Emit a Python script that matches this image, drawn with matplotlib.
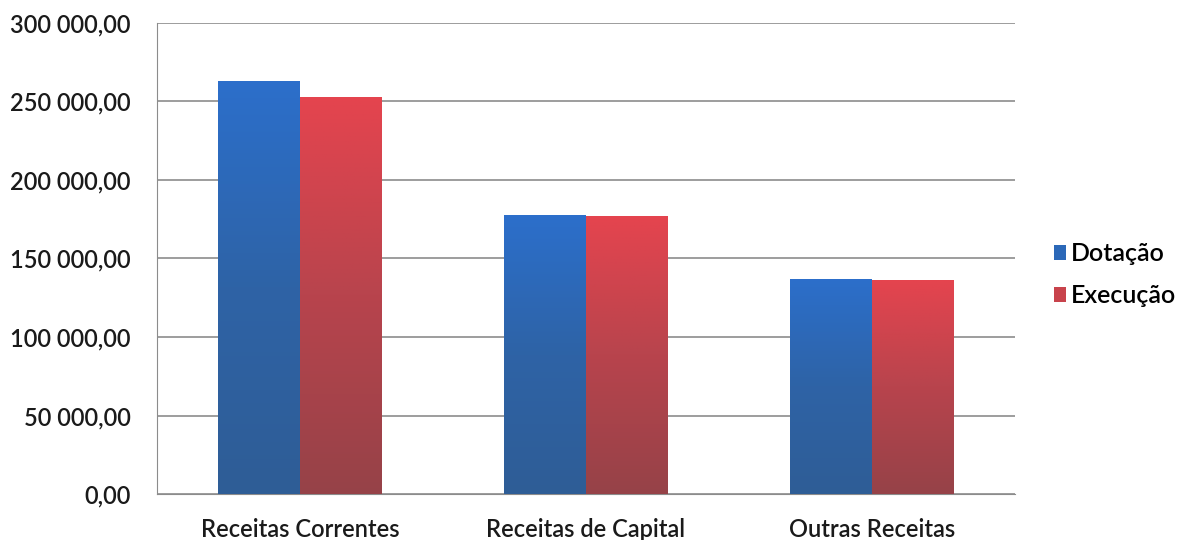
import matplotlib
matplotlib.use("Agg")
import matplotlib.pyplot as plt
import numpy as np
from matplotlib.colors import LinearSegmentedColormap
from matplotlib.ticker import FuncFormatter
from matplotlib.patches import Patch

categories = ["Receitas Correntes", "Receitas de Capital", "Outras Receitas"]
dotacao = [263000, 177500, 137000]
execucao = [253000, 177000, 136500]
series_names = ["Dotação", "Execução"]

plt.rcParams['font.family'] = ['Lato', 'DejaVu Sans']

fig = plt.figure(figsize=(11.8, 5.4), dpi=100)
ax = fig.add_axes([0.133, 0.085, 0.727, 0.873])

x = np.arange(len(categories))
w = 0.285
b1 = ax.bar(x - w/2, dotacao, w, color="#2B68B8", label=series_names[0], zorder=2)
b2 = ax.bar(x + w/2, execucao, w, color="#C8434C", label=series_names[1], zorder=2)

cm_blue = LinearSegmentedColormap.from_list("b", ["#2C6FCB", "#2E63A6", "#2F5D96"])
cm_red = LinearSegmentedColormap.from_list("r", ["#E5444F", "#B8444D", "#964248"])
grad = np.linspace(0, 1, 256).reshape(-1, 1)
for bars, cmap in ((b1, cm_blue), (b2, cm_red)):
    for r in bars:
        x0, y0 = r.get_x(), r.get_y()
        im = ax.imshow(grad, cmap=cmap, aspect='auto', origin='upper',
                       extent=(x0, x0 + r.get_width(), y0, y0 + r.get_height()), zorder=3)
        im.set_clip_path(r)

ax.set_xlim(-0.5, 2.5)
ax.set_ylim(0, 300000)
ax.set_yticks(np.arange(0, 300001, 50000))
ax.yaxis.set_major_formatter(FuncFormatter(lambda v, p: f"{int(v):,}".replace(",", " ") + ",00"))
ax.set_xticks(x)
ax.set_xticklabels(categories)
ax.grid(axis='y', color="#8C8C8C", linewidth=1.2, zorder=0)
for s in ["top", "right"]:
    ax.spines[s].set_visible(False)
ax.spines["left"].set_color("#8C8C8C")
ax.spines["bottom"].set_color("#8C8C8C")
ax.tick_params(axis='both', length=0, labelsize=17, colors="#1A1A1A")
ax.tick_params(axis='x', pad=17)
ax.tick_params(axis='y', pad=19)
for lbl in ax.get_xticklabels() + ax.get_yticklabels():
    lbl.set_fontweight('semibold')

handles = [Patch(facecolor="#2B68B8"), Patch(facecolor="#C8434C")]
leg = fig.legend(handles, series_names, loc='center left', bbox_to_anchor=(0.893, 0.491),
                 frameon=False, borderpad=0, borderaxespad=0,
                 prop={'size': 18, 'weight': 'semibold'},
                 handlelength=0.5, handleheight=0.5,
                 handletextpad=0.2, labelspacing=0.76)

fig.savefig("out.png", dpi=100)
